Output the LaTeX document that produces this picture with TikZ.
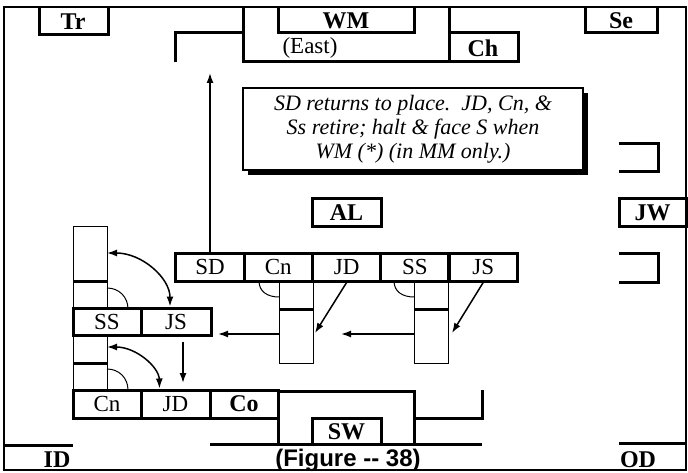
\documentclass[tikz,border=0pt]{standalone}
\usepackage{fontspec}
\setmainfont{Liberation Serif}
\newfontfamily\figfont{Liberation Sans}
\usetikzlibrary{arrows.meta}

\begin{document}
\begin{tikzpicture}[x=1pt,y=-1pt,
  wall/.style={line width=3pt},
  fine/.style={line width=1pt},
  spot/.style={draw,line width=3pt,minimum width=68.5pt,minimum height=28pt,inner sep=0pt,font=\fontsize{23}{24}\selectfont},
  tag/.style={inner sep=0pt,font=\bfseries\fontsize{24}{24}\selectfont},
  tagbox/.style={spot,font=\bfseries\fontsize{24}{24}\selectfont},
  post/.style={draw,line width=1pt,minimum width=34pt,minimum height=82pt,inner sep=0pt},
  move/.style={line width=1.5pt},
  >={Latex[length=10pt,width=7pt]}]
\useasboundingbox (0,0) rectangle (688,473);
\draw[line width=2.5pt] (4,7) rectangle (686,470);
% top wall
\draw[wall] (39,7) |- (108,35) -- (108,7);
\node[tag] (tr) at (73,22) {Tr};
\draw[wall] (278,7) |- (414,33) -- (414,7);
\node[tag] (wm) at (346,21) {WM};
\draw[wall] (175,62) |- (243,33);
\draw[wall] (243,7) |- (518,62) -- (518,33) -- (449,33);
\draw[wall] (449,7) -- (449,62);
\node[inner sep=0pt,font=\fontsize{23}{24}\selectfont] (east) at (310,48) {(East)};
\node[tag] (ch) at (483,48) {Ch};
\draw[wall] (585,7) |- (657,33) -- (657,7);
\node[tag] (se) at (621,21) {Se};
% note
\fill (248,93) rectangle (588,175);
\node[draw,fill=white,line width=1.2pt,minimum width=340pt,minimum height=82pt,inner sep=0pt,
  align=center,font=\itshape\fontsize{22}{24}\selectfont] (note) at (413,129)
  {SD returns to place.\ \ JD, Cn, \&\\Ss retire; halt \& face S when\\WM (*) (in MM only.)};
% east side
\node[tagbox,minimum width=69pt] (al) at (346.5,213) {AL};
\node[tagbox,minimum width=67pt] (jw) at (652.5,213) {JW};
\draw[wall] (619,144) -| (658,172) -- (619,172);
\draw[wall] (619,253) -| (658,282) -- (619,282);
% centre row
\foreach \name/\lbl [count=\i from 0] in {sd/SD,cn/Cn,jd/JD,ss/SS,js/JS}
  \node[spot] (\name) at (210+68.3*\i,267) {\lbl};
\node[post] (cnpost) at (296,322) {};
\node[post] (sspost) at (431.5,322) {};
\draw[wall] (279,309) -- (313,309);
\draw[wall] (414,309) -- (449,309);
\draw[fine] (259,281) .. controls (259,292) and (268,297) .. (279,297);
\draw[fine] (394,281) .. controls (394,292) and (403,297) .. (414,297);
% left column
\draw[fine] (73,309) |- (107,227) -- (107,309);
\draw[fine] (73,334) -- (73,390);
\draw[fine] (107,334) -- (107,390);
\draw[wall] (73,281) -- (107,281);
\draw[wall] (73,363) -- (107,363);
\draw[fine] (107,288) .. controls (119,288) and (128,297) .. (128,309);
\draw[fine] (107,369) .. controls (119,369) and (128,378) .. (128,390);
\node[spot,minimum width=68pt,minimum height=27pt] (lss) at (107,321.5) {SS};
\node[spot,minimum width=70pt,minimum height=27pt] (ljs) at (176,321.5) {JS};
\node[spot,minimum width=68pt] (bcn) at (107,404) {Cn};
\node[spot,minimum width=69pt] (bjd) at (175.5,404) {JD};
\node[tagbox,minimum width=68pt] (bco) at (244,404) {Co};
% bottom wall
\draw[wall] (278,444) |- (414,391) -- (414,444);
\draw[wall] (414,418) -| (482,390);
\draw[wall] (312,444) |- (381,418) -- (381,444);
\node[tag] (sw) at (346.5,432) {SW};
\draw[wall] (210,444) -- (482,444);
\draw[wall] (4,445) -- (73,445);
\draw[wall] (619,443) -- (686,443);
\node[tag] (id) at (57,460) {ID};
\node[tag] (od) at (638,460) {OD};
\node[inner sep=0pt,font=\figfont\bfseries\fontsize{24}{24}\selectfont] (fig) at (348,460) {(Figure -{}- 38)};
% moves
\coordinate (exit) at (210,73);
\coordinate (jdhit) at (315,333);
\coordinate (jshit) at (452,333);
\coordinate (midstop) at (341,334);
\coordinate (leftstop) at (218,334);
\coordinate (dropto) at (183,383);
\coordinate (colhit) at (107,253);
\coordinate (colhit2) at (107,347);
\draw[->,move] (sd.north) -- (exit);
\draw[->,move] (jd.south) -- (jdhit);
\draw[->,move] (js.south) -- (jshit);
\draw[->,move] ([yshift=-12pt]sspost.west) -- (midstop);
\draw[->,move] ([yshift=-12pt]cnpost.west) -- (leftstop);
\draw[->,move] ([xshift=7pt,yshift=-5pt]ljs.south) -- (dropto);
\draw[<->,move] (colhit) .. controls (142,253) and (170,278) .. ([xshift=-6pt]ljs.north);
\draw[<->,move] (colhit2) .. controls (136,347) and (159,367) .. ([xshift=-16pt]bjd.north);
\end{tikzpicture}
\end{document}
